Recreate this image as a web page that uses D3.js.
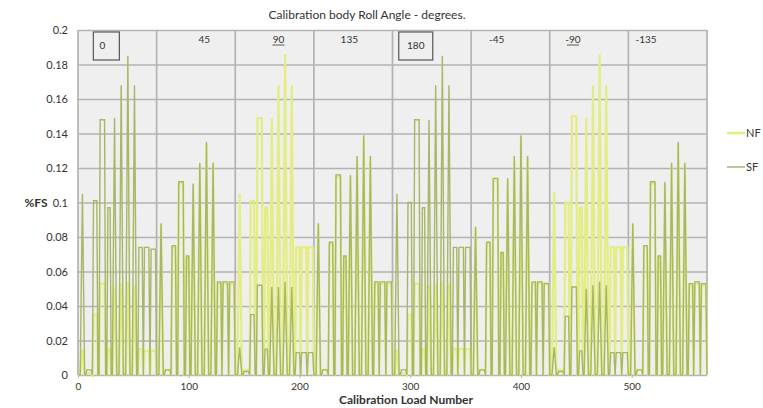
<!DOCTYPE html>
<html>
<head>
<meta charset="utf-8">
<script src="https://cdn.jsdelivr.net/npm/d3@7"></script>
<style>
  body { margin: 0; background: #fff; }
  svg { display: block; }
  text { font-family: Lato, "Open Sans", sans-serif; fill: #333; }
</style>
</head>
<body>
<div class="canvas"></div>
<script>
// load numbers where the two traces change direction
const loadNo = [
  0,2,4,6,7,8,12,13,14,17,18,19,20,24,25,26,27,29,30,31,33,35,37,39,41,43,45,47,49,51,53,54,55,58,59,60,64,65,66,70,
  71,73,75,77,78,79,83,84,85,88,89,90,91,95,96,97,98,100,101,102,104,106,108,110,112,114,116,118,120,122,124,125,126,129,130,131,135,136,137,141,
  142,144,146,148,149,150,154,155,156,159,160,161,162,166,167,168,169,171,172,173,175,177,179,181,183,185,187,189,191,193,195,196,197,200,201,202,206,207,208,212,
  213,215,217,219,220,221,225,226,227,230,231,232,233,237,238,239,240,242,243,244,246,248,250,252,254,256,258,260,262,264,266,267,268,271,272,273,277,278,279,283,
  284,286,288,290,291,292,296,297,298,301,302,303,304,308,309,310,311,313,314,315,317,319,321,323,325,327,329,331,333,335,337,338,339,342,343,344,348,349,350,354,
  355,357,359,361,362,363,367,368,369,372,373,374,375,379,380,381,382,384,385,386,388,390,392,394,396,398,400,402,404,406,408,409,410,413,414,415,419,420,421,425,
  426,428,430,432,433,434,438,439,440,443,444,445,446,450,451,452,453,455,456,457,459,461,463,465,467,469,471,473,475,477,479,480,481,484,485,486,490,491,492,496,
  497,499,501,503,504,505,509,510,511,514,515,516,517,521,522,523,524,526,527,528,530,532,534,536,538,540,542,544,546,548,550,551,552,555,556,557,561,562,563,567,
  568
]

const nf = [
  0,0,.015,0,0,.001,.001,0,.035,.035,0,0,.053,.053,0,0,.015,.015,0,0,.051,0,0,.053,0,0,.054,0,0,.052,0,0,.015,.015,0,.014,.014,0,.014,.014,
  0,0,.087,0,0,.003,.003,0,.074,.074,0,0,.111,.111,0,0,.068,.068,0,0,.110,0,0,.122,0,0,.134,0,0,.122,0,0,.053,.053,0,.053,.053,0,.053,.053,
  0,0,.105,0,0,.003,.003,0,.101,.101,0,0,.149,.149,0,0,.097,.097,0,0,.149,0,0,.168,0,0,.186,0,0,.168,0,0,.074,.074,0,.074,.074,0,.074,.074,
  0,0,.087,0,0,.003,.003,0,.076,.076,0,0,.115,.115,0,0,.068,.068,0,0,.115,0,0,.126,0,0,.138,0,0,.126,0,0,.053,.053,0,.053,.053,0,.053,.053,
  0,0,.015,0,0,.001,.001,0,.035,.035,0,0,.053,.053,0,0,.015,.015,0,0,.052,0,0,.053,0,0,.054,0,0,.053,0,0,.015,.015,0,.015,.015,0,.015,.015,
  0,0,.085,0,0,.003,.003,0,.076,.076,0,0,.113,.113,0,0,.070,.070,0,0,.113,0,0,.126,0,0,.138,0,0,.126,0,0,.053,.053,0,.053,.053,0,.053,.053,
  0,0,.106,0,0,.003,.003,0,.100,.100,0,0,.150,.150,0,0,.097,.097,0,0,.149,0,0,.168,0,0,.186,0,0,.168,0,0,.074,.074,0,.074,.074,0,.074,.074,
  0,0,.087,0,0,.003,.003,0,.074,.074,0,0,.111,.111,0,0,.068,.068,0,0,.111,0,0,.122,0,0,.134,0,0,.122,0,0,.052,.052,0,.053,.053,0,.052,.052,
  0
]

const sf = [
  0,0,.105,0,0,.003,.003,0,.101,.101,0,0,.148,.148,0,0,.097,.097,0,0,.149,0,0,.168,0,0,.185,0,0,.168,0,0,.074,.074,0,.074,.074,0,.073,.073,
  0,0,.088,0,0,.003,.003,0,.075,.075,0,0,.112,.112,0,0,.069,.069,0,0,.111,0,0,.123,0,0,.135,0,0,.123,0,0,.054,.054,0,.054,.054,0,.054,.054,
  0,0,.016,0,0,.002,.002,0,.035,.035,0,0,.052,.052,0,0,.015,.015,0,0,.051,0,0,.051,0,0,.054,0,0,.051,0,0,.013,.013,0,.013,.013,0,.013,.013,
  0,0,.088,0,0,.003,.003,0,.077,.077,0,0,.116,.116,0,0,.069,.069,0,0,.116,0,0,.127,0,0,.139,0,0,.127,0,0,.054,.054,0,.054,.054,0,.054,.054,
  0,0,.105,0,0,.003,.003,0,.100,.100,0,0,.148,.148,0,0,.097,.097,0,0,.148,0,0,.168,0,0,.185,0,0,.168,0,0,.074,.074,0,.074,.074,0,.074,.074,
  0,0,.086,0,0,.003,.003,0,.077,.077,0,0,.114,.114,0,0,.071,.071,0,0,.114,0,0,.127,0,0,.139,0,0,.127,0,0,.054,.054,0,.054,.054,0,.053,.053,
  0,0,.016,0,0,.002,.002,0,.034,.034,0,0,.051,.051,0,0,.014,.014,0,0,.050,0,0,.052,0,0,.054,0,0,.052,0,0,.013,.013,0,.013,.013,0,.013,.013,
  0,0,.088,0,0,.003,.003,0,.075,.075,0,0,.112,.112,0,0,.069,.069,0,0,.112,0,0,.123,0,0,.135,0,0,.123,0,0,.053,.053,0,.054,.054,0,.053,.053,
  0
]

const yTicks = [0, 0.02, 0.04, 0.06, 0.08, 0.1, 0.12, 0.14, 0.16, 0.18, 0.2]
const xTicks = [0, 100, 200, 300, 400, 500]
const sectionEdges = [0, 71, 142, 213, 284, 355, 426, 497, 568]
const rollLabels = ["0", "45", "90", "135", "180", "-45", "-90", "-135"]
const labelAt = [22, 114, 181, 245, 305, 378, 447, 513]
const boxed = ["0", "180"]
const underlined = ["90", "-90"]

const width = 763
const height = 408
const margin = { top: 30, right: 56, bottom: 33, left: 78 }
const graphWidth = width - margin.left - margin.right
const graphHeight = height - margin.top - margin.bottom

const svg = d3.select(".canvas").append("svg")
    .attr("width", width)
    .attr("height", height)

const graph = svg.append("g")
    .attr("transform", `translate(${margin.left}, ${margin.top})`)

const x = d3.scaleLinear().domain([0, 568]).range([0, graphWidth])
const y = d3.scaleLinear().domain([0, 0.2]).range([graphHeight, 0])

// plot area
graph.append("rect")
    .attr("width", graphWidth)
    .attr("height", graphHeight)
    .attr("fill", "#efefef")

// horizontal grid + y labels
const yAxis = d3.axisLeft(y)
    .tickValues(yTicks)
    .tickSize(-graphWidth)
    .tickPadding(10)
    .tickFormat(d => d === 0 ? "0" : String(+d.toFixed(2)))
const yAxisGroup = graph.append("g").call(yAxis)
yAxisGroup.select(".domain").remove()
yAxisGroup.selectAll("line").attr("stroke", "#b3b3b3").attr("stroke-width", 1.7)
yAxisGroup.selectAll("text").attr("font-size", 11).attr("fill", "#333")
    .style("font-family", "Lato, sans-serif")

// vertical grid at the roll angle sections
graph.selectAll(".vgrid")
    .data(sectionEdges)
    .enter()
    .append("line")
    .attr("class", "vgrid")
    .attr("x1", d => x(d))
    .attr("x2", d => x(d))
    .attr("y1", 0)
    .attr("y2", graphHeight)
    .attr("stroke", "#b3b3b3")
    .attr("stroke-width", 1.7)

// x axis
const xAxis = d3.axisBottom(x)
    .tickValues(xTicks)
    .tickSize(3)
    .tickPadding(5)
const xAxisGroup = graph.append("g")
    .attr("transform", `translate(0, ${graphHeight})`)
    .call(xAxis)
xAxisGroup.select(".domain").remove()
xAxisGroup.selectAll("line").attr("stroke", "#b3b3b3")
xAxisGroup.selectAll("text").attr("font-size", 10).attr("fill", "#444")
    .style("font-family", "Lato, sans-serif")

// series
const line = values => d3.line()
    .x((d, i) => x(loadNo[i]))
    .y(d => y(d))(values)

graph.append("path")
    .attr("d", line(nf))
    .attr("fill", "none")
    .attr("stroke", "#e4ed82")
    .attr("stroke-width", 2.2)

graph.append("path")
    .attr("d", line(sf))
    .attr("fill", "none")
    .attr("stroke", "#a6b765")
    .attr("stroke-width", 1.4)

// roll angle labels
const labels = graph.selectAll(".roll")
    .data(rollLabels)
    .enter()
    .append("g")
    .attr("class", "roll")
    .attr("transform", (d, i) => `translate(${x(labelAt[i])}, ${boxed.includes(d) ? 15 : 9})`)

labels.filter(d => boxed.includes(d))
    .append("rect")
    .attr("x", d => d.length > 1 ? -17 : -9)
    .attr("y", -13)
    .attr("width", d => d.length > 1 ? 34 : 26)
    .attr("height", 28)
    .attr("fill", "none")
    .attr("stroke", "#555")
    .attr("stroke-width", 1.2)

labels.append("text")
    .attr("text-anchor", "middle")
    .attr("dy", "0.35em")
    .attr("font-size", 10)
    .attr("fill", "#333")
    .text(d => d)

labels.filter(d => underlined.includes(d))
    .append("line")
    .attr("x1", -6).attr("x2", 6)
    .attr("y1", 6).attr("y2", 6)
    .attr("stroke", "#333")
    .attr("stroke-width", 0.8)

// titles
svg.append("text")
    .attr("x", 367)
    .attr("y", 19)
    .attr("text-anchor", "middle")
    .attr("font-size", 12)
    .text("Calibration body Roll Angle - degrees.")

svg.append("text")
    .attr("x", 406)
    .attr("y", 404)
    .attr("text-anchor", "middle")
    .attr("font-size", 12)
    .attr("font-weight", "bold")
    .text("Calibration Load Number")

svg.append("text")
    .attr("x", 36)
    .attr("y", 207)
    .attr("text-anchor", "middle")
    .attr("font-size", 12)
    .attr("font-weight", "bold")
    .text("%FS")

// legend
const legend = svg.append("g").attr("transform", "translate(727, 133)")
const legendItems = [
    { name: "NF", color: "#e4ed82", w: 2.5 },
    { name: "SF", color: "#a6b765", w: 1.5 }
]
legend.selectAll("g")
    .data(legendItems)
    .enter()
    .append("g")
    .attr("transform", (d, i) => `translate(0, ${i * 34})`)
    .each(function (d) {
        const g = d3.select(this)
        g.append("line").attr("x1", 0).attr("x2", 18)
            .attr("stroke", d.color).attr("stroke-width", d.w)
        g.append("text").attr("x", 19).attr("dy", "0.35em")
            .attr("font-size", 11).text(d.name)
    })
</script>
</body>
</html>
